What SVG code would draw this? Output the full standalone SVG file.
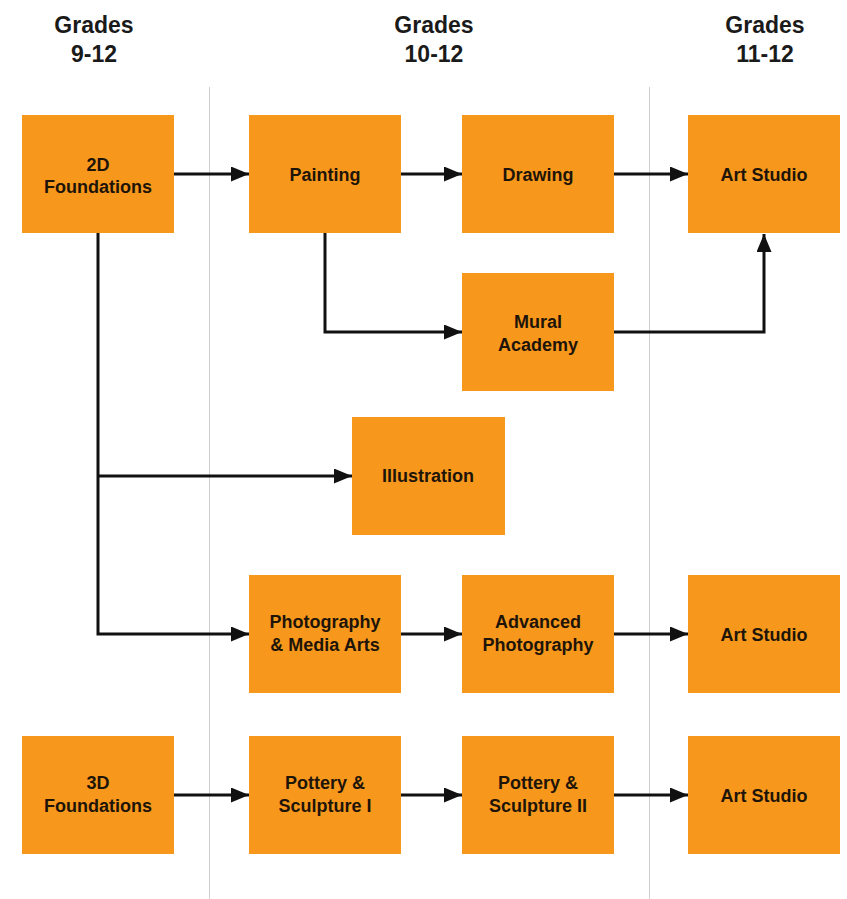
<svg xmlns="http://www.w3.org/2000/svg" width="847" height="899" viewBox="0 0 847 899">
<defs>
<marker id="ah" markerUnits="userSpaceOnUse" markerWidth="20" markerHeight="16" refX="18" refY="7.5" orient="auto">
<path d="M0,0 L18,7.5 L0,15 Z" fill="#111"/>
</marker>
<style>
.box{fill:#F7981D;}
.t{font-family:"Liberation Sans",Arial,sans-serif;font-weight:bold;font-size:18px;fill:#1e1408;text-anchor:middle;}
.h{font-family:"Liberation Sans",Arial,sans-serif;font-weight:bold;font-size:23px;fill:#1a1a1a;text-anchor:middle;}
.c{fill:none;stroke:#111;stroke-width:3;}
.div{stroke:#cfcfcf;stroke-width:1;}
</style>
</defs>
<rect width="847" height="899" fill="#ffffff"/>
<g id="headers">
<text class="h" x="94" y="33">Grades</text><text class="h" x="94" y="62">9-12</text>
<text class="h" x="434" y="33">Grades</text><text class="h" x="434" y="62">10-12</text>
<text class="h" x="765" y="33">Grades</text><text class="h" x="765" y="62">11-12</text>
</g>
<g id="dividers">
<line class="div" x1="209.5" y1="87" x2="209.5" y2="899"/>
<line class="div" x1="649.5" y1="87" x2="649.5" y2="899"/>
</g>
<g id="connectors">
<line class="c" x1="174" y1="174" x2="249" y2="174" marker-end="url(#ah)"/>
<line class="c" x1="401" y1="174" x2="462" y2="174" marker-end="url(#ah)"/>
<line class="c" x1="614" y1="174" x2="688" y2="174" marker-end="url(#ah)"/>
<polyline class="c" points="325,233 325,332 462,332" marker-end="url(#ah)"/>
<polyline class="c" points="614,332 764,332 764,234" marker-end="url(#ah)"/>
<polyline class="c" points="98,233 98,634 249,634" marker-end="url(#ah)"/>
<line class="c" x1="98" y1="476" x2="352" y2="476" marker-end="url(#ah)"/>
<line class="c" x1="401" y1="634" x2="462" y2="634" marker-end="url(#ah)"/>
<line class="c" x1="614" y1="634" x2="688" y2="634" marker-end="url(#ah)"/>
<line class="c" x1="174" y1="795" x2="249" y2="795" marker-end="url(#ah)"/>
<line class="c" x1="401" y1="795" x2="462" y2="795" marker-end="url(#ah)"/>
<line class="c" x1="614" y1="795" x2="688" y2="795" marker-end="url(#ah)"/>
</g>
<g id="n2d"><rect class="box" x="22" y="115" width="152" height="118"/><text class="t" x="98" y="171">2D</text><text class="t" x="98" y="193">Foundations</text></g>
<g id="npainting"><rect class="box" x="249" y="115" width="152" height="118"/><text class="t" x="325" y="181">Painting</text></g>
<g id="ndrawing"><rect class="box" x="462" y="115" width="152" height="118"/><text class="t" x="538" y="181">Drawing</text></g>
<g id="nart1"><rect class="box" x="688" y="115" width="152" height="118"/><text class="t" x="764" y="181">Art Studio</text></g>
<g id="nmural"><rect class="box" x="462" y="273" width="152" height="118"/><text class="t" x="538" y="328">Mural</text><text class="t" x="538" y="351">Academy</text></g>
<g id="nillus"><rect class="box" x="352" y="417" width="153" height="118"/><text class="t" x="428" y="482">Illustration</text></g>
<g id="nphoto"><rect class="box" x="249" y="575" width="152" height="118"/><text class="t" x="325" y="628">Photography</text><text class="t" x="325" y="651">&amp; Media Arts</text></g>
<g id="nadvphoto"><rect class="box" x="462" y="575" width="152" height="118"/><text class="t" x="538" y="628">Advanced</text><text class="t" x="538" y="651">Photography</text></g>
<g id="nart2"><rect class="box" x="688" y="575" width="152" height="118"/><text class="t" x="764" y="641">Art Studio</text></g>
<g id="n3d"><rect class="box" x="22" y="736" width="152" height="118"/><text class="t" x="98" y="789">3D</text><text class="t" x="98" y="812">Foundations</text></g>
<g id="npot1"><rect class="box" x="249" y="736" width="152" height="118"/><text class="t" x="325" y="789">Pottery &amp;</text><text class="t" x="325" y="812">Sculpture I</text></g>
<g id="npot2"><rect class="box" x="462" y="736" width="152" height="118"/><text class="t" x="538" y="789">Pottery &amp;</text><text class="t" x="538" y="812">Sculpture II</text></g>
<g id="nart3"><rect class="box" x="688" y="736" width="152" height="118"/><text class="t" x="764" y="802">Art Studio</text></g>
</svg>
